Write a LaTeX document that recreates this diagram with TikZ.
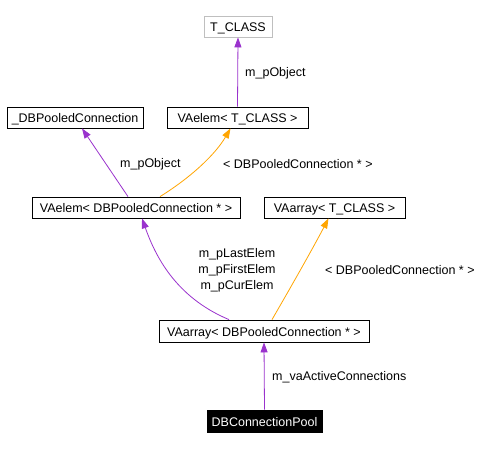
\documentclass[tikz,border=0pt]{standalone}
\usepackage{fontspec}
\setmainfont{Liberation Sans}
\usetikzlibrary{arrows.meta}
\definecolor{edgepurple}{HTML}{9A32CD}
\definecolor{edgeorange}{HTML}{FFA500}
\definecolor{boxgray}{HTML}{BFBFBF}
\begin{document}
\begin{tikzpicture}[x=1bp,y=-1bp,
  font=\fontsize{12.5bp}{15bp}\selectfont,
  cls/.style={draw=black,line width=0.8bp,rectangle,inner sep=0pt,minimum height=21bp,text height=11bp,text depth=0bp,fill=white},
  lbl/.style={inner sep=0pt,anchor=west},
  usage/.style={draw=edgepurple,line width=0.8bp,-{Triangle[length=10bp,width=7bp]}},
  tmpl/.style={draw=edgeorange,line width=0.8bp,-{Triangle[length=10bp,width=7bp]}}]
\useasboundingbox[fill=white] (0,0) rectangle (503,449);
\node[cls,draw=boxgray,minimum width=68bp] (tclass) at (238,26.5) {T\_CLASS};
\node[cls,minimum width=136bp] (dbpc) at (75,117.5) {\_DBPooledConnection};
\node[cls,minimum width=141bp] (vaelemt) at (237.5,117.5) {VAelem< T\_CLASS >};
\node[cls,minimum width=208bp] (vaelemdb) at (136,207.5) {VAelem< DBPooledConnection * >};
\node[cls,minimum width=141bp] (vaarrayt) at (334.5,207.5) {VAarray< T\_CLASS >};
\node[cls,minimum width=210bp,minimum height=22bp] (vaarraydb) at (264,331) {VAarray< DBPooledConnection * >};
\node[cls,fill=black,text=white,minimum width=115bp,minimum height=22bp] (pool) at (264.5,421) {DBConnectionPool};

\draw[usage] (vaelemt.north) -- (tclass.south);
\draw[usage] ([xshift=-8bp]vaelemdb.north) -- ([xshift=7bp]dbpc.south);
\draw[tmpl] ([xshift=24bp]vaelemdb.north) .. controls (190,178) and (215,155) .. ([xshift=-7bp]vaelemt.south);
\draw[usage] ([xshift=-35bp]vaarraydb.north) .. controls (175,297) and (155,255) .. ([xshift=6bp]vaelemdb.south);
\draw[tmpl] ([xshift=8bp]vaarraydb.north) .. controls (288,292) and (312,250) .. ([xshift=-6bp]vaarrayt.south);
\draw[usage] (pool.north) -- (vaarraydb.south);

\node[lbl] (l1) at (245,73) {m\_pObject};
\node[lbl] (l2) at (120,164) {m\_pObject};
\node[lbl] (l3) at (223,164) {< DBPooledConnection * >};
\node[inner sep=0pt,align=center,font=\fontsize{12.5bp}{16bp}\selectfont] (l4) at (237,270) {m\_pLastElem\\m\_pFirstElem\\m\_pCurElem};
\node[lbl] (l5) at (325,270) {< DBPooledConnection * >};
\node[lbl] (l6) at (272,377) {m\_vaActiveConnections};
\end{tikzpicture}
\end{document}
